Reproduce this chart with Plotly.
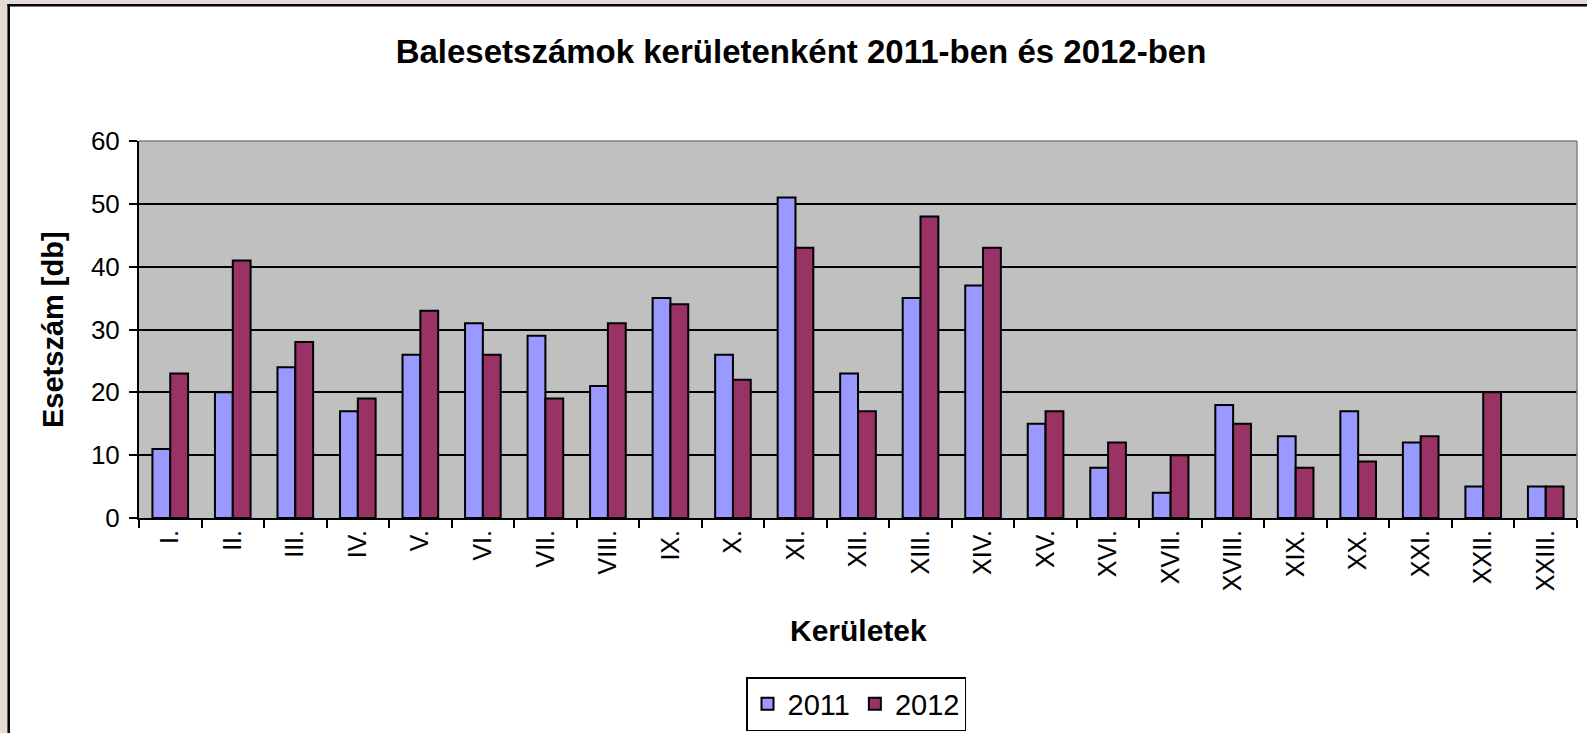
import plotly.graph_objects as go

districts = ["I.", "II.", "III.", "IV.", "V.", "VI.", "VII.", "VIII.", "IX.", "X.",
             "XI.", "XII.", "XIII.", "XIV.", "XV.", "XVI.", "XVII.", "XVIII.", "XIX.",
             "XX.", "XXI.", "XXII.", "XXIII."]
values_2011 = [11, 20, 24, 17, 26, 31, 29, 21, 35, 26, 51, 23, 35, 37, 15, 8, 4, 18, 13, 17, 12, 5, 5]
values_2012 = [23, 41, 28, 19, 33, 26, 19, 31, 34, 22, 43, 17, 48, 43, 17, 12, 10, 15, 8, 9, 13, 20, 5]
series_names = ["2011", "2012"]
y_ticks = [0, 10, 20, 30, 40, 50, 60]

FONT = "Arial, Liberation Sans, sans-serif"
W, H = 1587, 733
L, R, T, B = 139, 10, 141, 215
PW, PH = W - L - R, H - T - B


def px_x(p):
    return (p - L) / PW


def px_y(p):
    return (H - B - p) / PH


fig = go.Figure()
fig.add_trace(go.Bar(x=districts, y=values_2011, name=series_names[0],
                     marker=dict(color="#9999FF", line=dict(color="black", width=2))))
fig.add_trace(go.Bar(x=districts, y=values_2012, name=series_names[1],
                     marker=dict(color="#993366", line=dict(color="black", width=2))))

bg = "#E4DAD6"
shapes = [
    # outer background strips
    dict(type="rect", xref="paper", yref="paper", x0=px_x(-20), x1=px_x(8), y0=px_y(760), y1=px_y(-20),
         fillcolor=bg, line=dict(width=0), layer="above"),
    dict(type="rect", xref="paper", yref="paper", x0=px_x(-20), x1=px_x(1610), y0=px_y(4), y1=px_y(-20),
         fillcolor=bg, line=dict(width=0), layer="above"),
    # chart frame
    dict(type="line", xref="paper", yref="paper", x0=px_x(8.7), x1=px_x(8.7), y0=px_y(760), y1=px_y(4),
         line=dict(color="black", width=2.5), layer="above"),
    dict(type="line", xref="paper", yref="paper", x0=px_x(7.5), x1=px_x(1610), y0=px_y(5.3), y1=px_y(5.3),
         line=dict(color="black", width=2.5), layer="above"),
    # plot area grey border (top, right)
    dict(type="line", xref="paper", yref="paper", x0=0, x1=1, y0=1, y1=1,
         line=dict(color="#808080", width=1.5), layer="above"),
    dict(type="line", xref="paper", yref="paper", x0=1, x1=1, y0=0, y1=1,
         line=dict(color="#808080", width=1.5), layer="above"),
]

annotations = [
    dict(text="<b>Esetszám [db]</b>", xref="paper", yref="paper", x=px_x(53), y=px_y(330),
         textangle=-90, showarrow=False, xanchor="center", yanchor="middle",
         font=dict(family=FONT, size=29, color="black")),
    dict(text="<b>Kerületek</b>", xref="paper", yref="paper", x=px_x(858), y=px_y(630),
         showarrow=False, xanchor="center", yanchor="middle",
         font=dict(family=FONT, size=30, color="black")),
]

fig.update_layout(
    width=W, height=H,
    margin=dict(l=L, r=R, t=T, b=B, autoexpand=False),
    paper_bgcolor="white",
    plot_bgcolor="#C0C0C0",
    barmode="group",
    bargap=0.43,
    bargroupgap=0,
    title=dict(text="<b>Balesetszámok kerületenként 2011-ben és 2012-ben</b>",
               x=801 / W, y=1 - 51 / H, xanchor="center", yanchor="middle",
               font=dict(family=FONT, size=33, color="black")),
    font=dict(family=FONT, color="black"),
    shapes=shapes,
    annotations=annotations,
    legend=dict(orientation="h", x=px_x(856), y=px_y(677), xanchor="center", yanchor="top",
                bordercolor="black", borderwidth=1.5, bgcolor="white",
                font=dict(family=FONT, size=29, color="black")),
    xaxis=dict(type="category", showgrid=False, showline=True, linecolor="black", linewidth=2,
               ticks="outside", tickson="boundaries", ticklen=8, tickwidth=2, tickcolor="black",
               tickangle=-90, tickfont=dict(family=FONT, size=25, color="black"),
               automargin=False, fixedrange=True),
    yaxis=dict(range=[0, 60], tickvals=y_ticks, showgrid=True, gridcolor="black", gridwidth=1.5,
               showline=True, linecolor="black", linewidth=2, zeroline=False,
               ticks="outside", ticklen=8, tickwidth=2, tickcolor="black",
               ticklabelstandoff=4,
               tickfont=dict(family=FONT, size=26, color="black"),
               automargin=False, fixedrange=True),
)

fig.write_html("out.html", config={"displayModeBar": False},
               post_script="document.body.style.margin='0';document.body.style.overflow='hidden';")
